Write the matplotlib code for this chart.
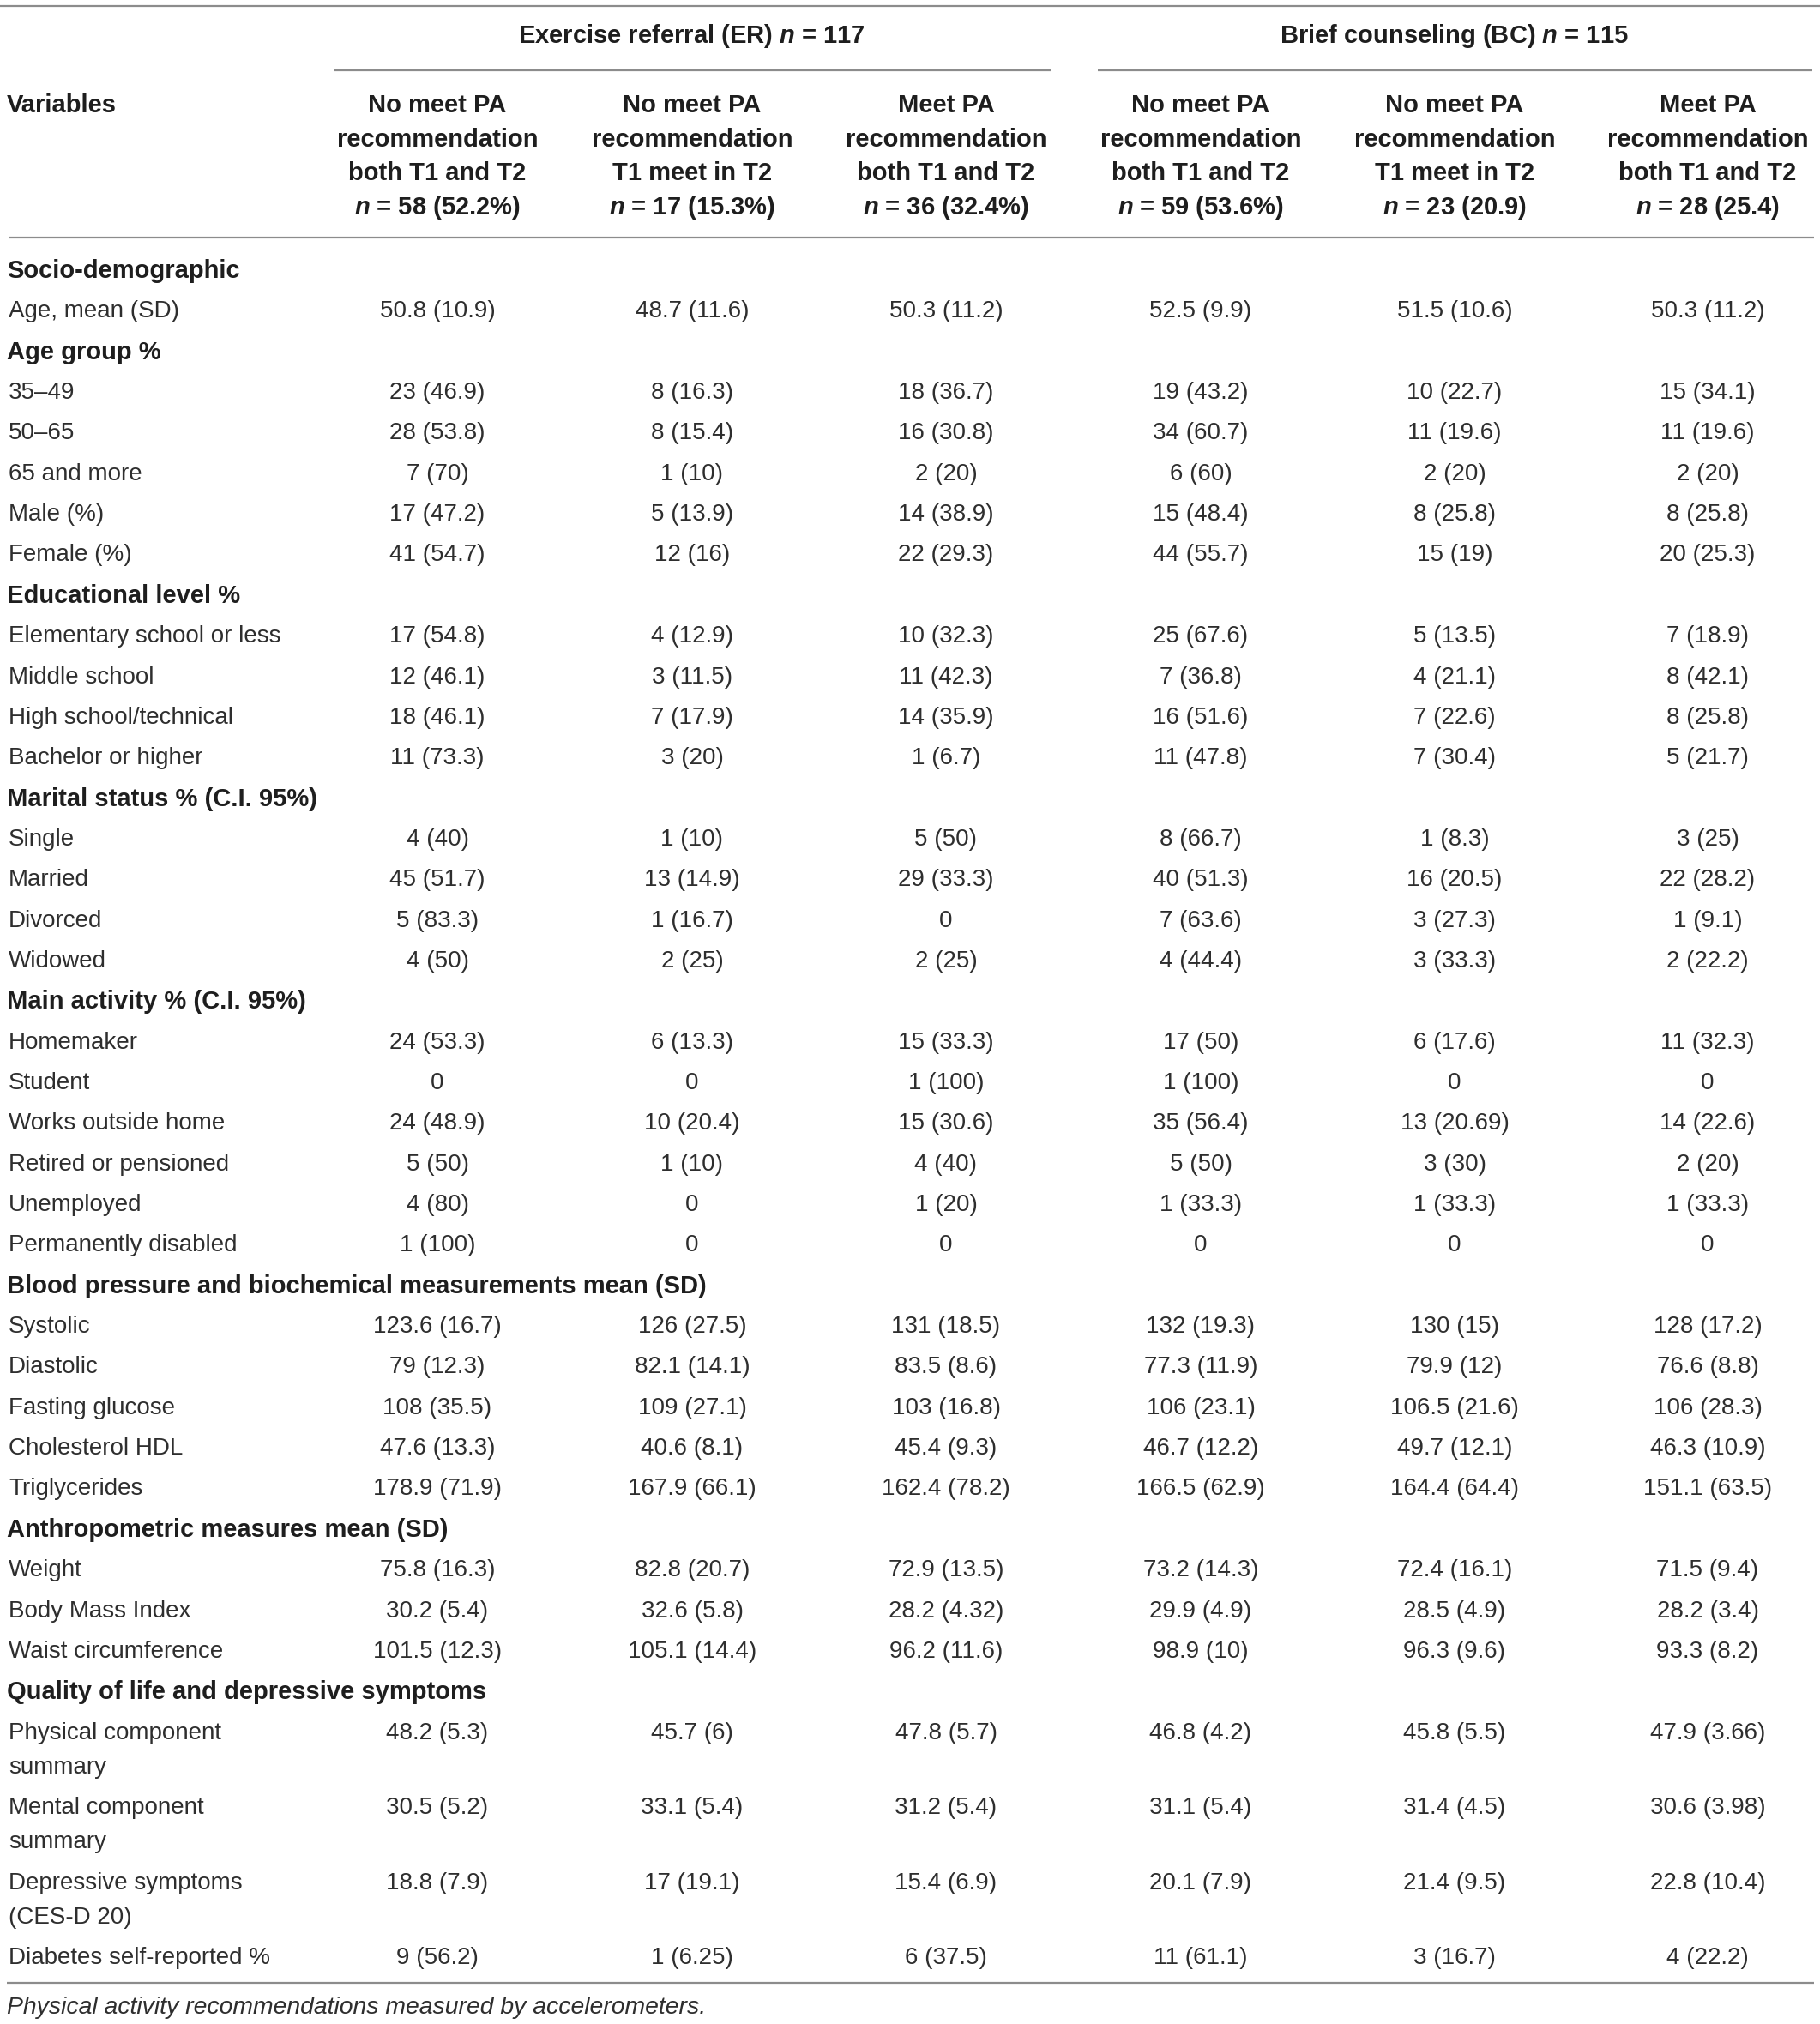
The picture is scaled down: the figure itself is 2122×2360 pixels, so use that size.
import matplotlib
matplotlib.use("Agg")
import matplotlib.pyplot as plt

# ---- datos de la tabla ----
group_names = ["Exercise referral (ER)", "Brief counseling (BC)"]
group_n = [117, 115]

head_line1 = ["No meet PA", "No meet PA", "Meet PA", "No meet PA", "No meet PA", "Meet PA"]
head_line2 = ["recommendation"] * 6
head_line3 = ["both T1 and T2", "T1 meet in T2", "both T1 and T2",
              "both T1 and T2", "T1 meet in T2", "both T1 and T2"]
head_n = ["58 (52.2%)", "17 (15.3%)", "36 (32.4%)", "59 (53.6%)", "23 (20.9)", "28 (25.4)"]

row_labels = [
    "Socio-demographic", "Age, mean (SD)", "Age group %", "35\u201349", "50\u201365",
    "65 and more", "Male (%)", "Female (%)", "Educational level %",
    "Elementary school or less", "Middle school", "High school/technical",
    "Bachelor or higher", "Marital status % (C.I. 95%)", "Single", "Married",
    "Divorced", "Widowed", "Main activity % (C.I. 95%)", "Homemaker", "Student",
    "Works outside home", "Retired or pensioned", "Unemployed",
    "Permanently disabled", "Blood pressure and biochemical measurements mean (SD)",
    "Systolic", "Diastolic", "Fasting glucose", "Cholesterol HDL", "Triglycerides",
    "Anthropometric measures mean (SD)", "Weight", "Body Mass Index",
    "Waist circumference", "Quality of life and depressive symptoms",
    "Physical component\nsummary", "Mental component\nsummary",
    "Depressive symptoms\n(CES-D 20)", "Diabetes self-reported %",
]
section_rows = {
    "Socio-demographic", "Age group %", "Educational level %",
    "Marital status % (C.I. 95%)", "Main activity % (C.I. 95%)",
    "Blood pressure and biochemical measurements mean (SD)",
    "Anthropometric measures mean (SD)", "Quality of life and depressive symptoms",
}

er_no_both = ["", "50.8 (10.9)", "", "23 (46.9)", "28 (53.8)", "7 (70)", "17 (47.2)",
              "41 (54.7)", "", "17 (54.8)", "12 (46.1)", "18 (46.1)", "11 (73.3)", "",
              "4 (40)", "45 (51.7)", "5 (83.3)", "4 (50)", "", "24 (53.3)", "0",
              "24 (48.9)", "5 (50)", "4 (80)", "1 (100)", "", "123.6 (16.7)",
              "79 (12.3)", "108 (35.5)", "47.6 (13.3)", "178.9 (71.9)", "",
              "75.8 (16.3)", "30.2 (5.4)", "101.5 (12.3)", "", "48.2 (5.3)",
              "30.5 (5.2)", "18.8 (7.9)", "9 (56.2)"]
er_no_t1_meet_t2 = ["", "48.7 (11.6)", "", "8 (16.3)", "8 (15.4)", "1 (10)", "5 (13.9)",
                    "12 (16)", "", "4 (12.9)", "3 (11.5)", "7 (17.9)", "3 (20)", "",
                    "1 (10)", "13 (14.9)", "1 (16.7)", "2 (25)", "", "6 (13.3)", "0",
                    "10 (20.4)", "1 (10)", "0", "0", "", "126 (27.5)", "82.1 (14.1)",
                    "109 (27.1)", "40.6 (8.1)", "167.9 (66.1)", "", "82.8 (20.7)",
                    "32.6 (5.8)", "105.1 (14.4)", "", "45.7 (6)", "33.1 (5.4)",
                    "17 (19.1)", "1 (6.25)"]
er_meet_both = ["", "50.3 (11.2)", "", "18 (36.7)", "16 (30.8)", "2 (20)", "14 (38.9)",
                "22 (29.3)", "", "10 (32.3)", "11 (42.3)", "14 (35.9)", "1 (6.7)", "",
                "5 (50)", "29 (33.3)", "0", "2 (25)", "", "15 (33.3)", "1 (100)",
                "15 (30.6)", "4 (40)", "1 (20)", "0", "", "131 (18.5)", "83.5 (8.6)",
                "103 (16.8)", "45.4 (9.3)", "162.4 (78.2)", "", "72.9 (13.5)",
                "28.2 (4.32)", "96.2 (11.6)", "", "47.8 (5.7)", "31.2 (5.4)",
                "15.4 (6.9)", "6 (37.5)"]
bc_no_both = ["", "52.5 (9.9)", "", "19 (43.2)", "34 (60.7)", "6 (60)", "15 (48.4)",
              "44 (55.7)", "", "25 (67.6)", "7 (36.8)", "16 (51.6)", "11 (47.8)", "",
              "8 (66.7)", "40 (51.3)", "7 (63.6)", "4 (44.4)", "", "17 (50)", "1 (100)",
              "35 (56.4)", "5 (50)", "1 (33.3)", "0", "", "132 (19.3)", "77.3 (11.9)",
              "106 (23.1)", "46.7 (12.2)", "166.5 (62.9)", "", "73.2 (14.3)",
              "29.9 (4.9)", "98.9 (10)", "", "46.8 (4.2)", "31.1 (5.4)",
              "20.1 (7.9)", "11 (61.1)"]
bc_no_t1_meet_t2 = ["", "51.5 (10.6)", "", "10 (22.7)", "11 (19.6)", "2 (20)", "8 (25.8)",
                    "15 (19)", "", "5 (13.5)", "4 (21.1)", "7 (22.6)", "7 (30.4)", "",
                    "1 (8.3)", "16 (20.5)", "3 (27.3)", "3 (33.3)", "", "6 (17.6)", "0",
                    "13 (20.69)", "3 (30)", "1 (33.3)", "0", "", "130 (15)", "79.9 (12)",
                    "106.5 (21.6)", "49.7 (12.1)", "164.4 (64.4)", "", "72.4 (16.1)",
                    "28.5 (4.9)", "96.3 (9.6)", "", "45.8 (5.5)", "31.4 (4.5)",
                    "21.4 (9.5)", "3 (16.7)"]
bc_meet_both = ["", "50.3 (11.2)", "", "15 (34.1)", "11 (19.6)", "2 (20)", "8 (25.8)",
                "20 (25.3)", "", "7 (18.9)", "8 (42.1)", "8 (25.8)", "5 (21.7)", "",
                "3 (25)", "22 (28.2)", "1 (9.1)", "2 (22.2)", "", "11 (32.3)", "0",
                "14 (22.6)", "2 (20)", "1 (33.3)", "0", "", "128 (17.2)", "76.6 (8.8)",
                "106 (28.3)", "46.3 (10.9)", "151.1 (63.5)", "", "71.5 (9.4)",
                "28.2 (3.4)", "93.3 (8.2)", "", "47.9 (3.66)", "30.6 (3.98)",
                "22.8 (10.4)", "4 (22.2)"]

footnote = "Physical activity recommendations measured by accelerometers."

columns = [er_no_both, er_no_t1_meet_t2, er_meet_both,
           bc_no_both, bc_no_t1_meet_t2, bc_meet_both]

# ---- estilo ----
FONT = "Liberation Sans"
plt.rcParams["font.family"] = [FONT, "DejaVu Sans"]
plt.rcParams["mathtext.fontset"] = "custom"
plt.rcParams["mathtext.it"] = FONT + ":bold:italic"
plt.rcParams["mathtext.rm"] = FONT + ":bold"

W, H = 2122, 2360
FS = 20        # texto normal
FS_B = 21      # texto en negrita
TXT = "#2e2e2e"
BOLD = "#1e1e1e"
LINE = "#8c8c8c"

col_x = [510, 807, 1103, 1400, 1696, 1991]
x_left = 8

fig = plt.figure(figsize=(W / 100, H / 100), dpi=100)
ax = fig.add_axes([0, 0, 1, 1])
ax.set_xlim(0, W)
ax.set_ylim(H, 0)
ax.axis("off")

def hline(y, x0, x1, lw=1.6):
    ax.plot([x0, x1], [y, y], color=LINE, linewidth=lw, solid_capstyle="butt")

# lineas horizontales
hline(7, 0, W)
hline(277, 10, 2115)
hline(2312, 8, 2115)

# cabecera de grupos
for g, name in enumerate(group_names):
    xs = col_x[3 * g:3 * g + 3]
    xc = sum(xs) / 3
    ax.text(xc, 42, f"{name} $n$ = {group_n[g]}", ha="center", va="center",
            fontsize=FS_B, fontweight="bold", color=BOLD)
    hline(82, xs[0] - 120, xs[-1] + 122)

ax.text(x_left, 123, "Variables", ha="left", va="center",
        fontsize=FS_B, fontweight="bold", color=BOLD)
head_y = [123, 163, 202, 242]
for i, xc in enumerate(col_x):
    lines = [head_line1[i], head_line2[i], head_line3[i], f"$n$ = {head_n[i]}"]
    for yy, s in zip(head_y, lines):
        ax.text(xc, yy, s, ha="center", va="center",
                fontsize=FS_B, fontweight="bold", color=BOLD)

# filas del cuerpo
y = 313
step = 47.35
for r, label in enumerate(row_labels):
    is_sec = label in section_rows
    parts = label.split("\n")
    for k, p in enumerate(parts):
        ax.text(x_left if is_sec else x_left + 2, y + k * 40, p, ha="left",
                va="center_baseline", fontsize=FS_B if is_sec else FS,
                fontweight="bold" if is_sec else "normal",
                color=BOLD if is_sec else TXT)
    for c, xc in enumerate(col_x):
        val = columns[c][r]
        if val:
            ax.text(xc, y, val, ha="center", va="center_baseline",
                    fontsize=FS, color=TXT)
    y += step if len(parts) == 1 else 87.5

ax.text(x_left, 2338, footnote, ha="left", va="center_baseline",
        fontsize=20.4, style="italic", color=TXT)

fig.savefig("out.png", dpi=100, facecolor="white")
